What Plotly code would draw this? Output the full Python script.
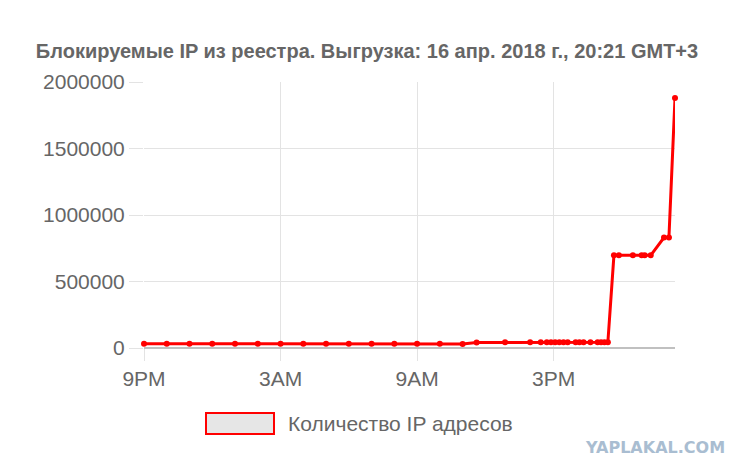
import plotly.graph_objects as go

# Data (time of export, blocked IP count)
times = [
    "2018-04-15 21:00", "2018-04-15 22:00", "2018-04-15 23:00", "2018-04-16 00:00",
    "2018-04-16 01:00", "2018-04-16 02:00", "2018-04-16 03:00", "2018-04-16 04:00",
    "2018-04-16 05:00", "2018-04-16 06:00", "2018-04-16 07:00", "2018-04-16 08:00",
    "2018-04-16 09:00", "2018-04-16 10:00", "2018-04-16 11:00", "2018-04-16 11:37",
    "2018-04-16 12:52", "2018-04-16 13:58", "2018-04-16 14:26", "2018-04-16 14:42",
    "2018-04-16 14:53", "2018-04-16 15:04", "2018-04-16 15:15", "2018-04-16 15:26",
    "2018-04-16 15:37", "2018-04-16 15:58", "2018-04-16 16:08", "2018-04-16 16:19",
    "2018-04-16 16:37", "2018-04-16 16:56", "2018-04-16 17:05", "2018-04-16 17:14",
    "2018-04-16 17:23", "2018-04-16 17:39", "2018-04-16 17:52", "2018-04-16 18:29",
    "2018-04-16 18:52", "2018-04-16 19:00", "2018-04-16 19:16", "2018-04-16 19:51",
    "2018-04-16 20:04", "2018-04-16 20:20",
]
ip_counts = [
    32000, 32000, 32000, 32000, 32000, 32000, 32000, 32000,
    32000, 32000, 32000, 32000, 32000, 32000, 30000, 42000,
    43000, 43000, 43000, 43000, 43000, 43000, 43000, 43000,
    43000, 43000, 43000, 43000, 43000, 43000, 43000, 43000,
    43000, 697000, 697000, 697000, 697000, 697000, 697000, 830000,
    830000, 1880000,
]

tick_vals = ["2018-04-15 21:00", "2018-04-16 03:00", "2018-04-16 09:00", "2018-04-16 15:00"]
tick_text = ["9PM", "3AM", "9AM", "3PM"]

title_text = "Блокируемые IP из реестра. Выгрузка: 16 апр. 2018 г., 20:21 GMT+3"
legend_text = "Количество IP адресов"

GRAY = "#666666"
FONT = "Liberation Sans, Arial, sans-serif"

# page body has an 8px offset; plot area target: x 144..675, y 82..348
OFF = 8
PL, PR, PT, PB = 144, 675, 82, 348
W, H = 749 - OFF, 476 - OFF

def px(x):
    return (x - PL) / (PR - PL)

def py(y):
    return (PB - y) / (PB - PT)

fig = go.Figure()
fig.add_trace(go.Scatter(
    x=times, y=ip_counts, mode="lines+markers",
    line=dict(color="#ff0000", width=3),
    marker=dict(color="#ff0000", size=6),
    cliponaxis=False, showlegend=False,
))

fig.update_layout(
    width=W, height=H,
    margin=dict(l=PL - OFF, r=W + OFF - PR, t=PT - OFF, b=H + OFF - PB, pad=0),
    paper_bgcolor="white", plot_bgcolor="white",
    font=dict(family=FONT, color=GRAY, size=20),
    title=dict(text="<b>" + title_text + "</b>", x=(367 - OFF) / W, xanchor="center",
               y=1 - (51 - OFF) / H, yanchor="middle",
               font=dict(family=FONT, size=20, color=GRAY)),
    xaxis=dict(
        type="date", range=[times[0], times[-1]],
        tickvals=tick_vals, ticktext=tick_text,
        showgrid=True, gridcolor="#e3e3e3", gridwidth=1,
        ticks="outside", ticklen=12, tickcolor="#e3e3e3",
        showline=False, zeroline=False,
        tickfont=dict(size=21, color=GRAY),
    ),
    yaxis=dict(
        range=[0, 2000000], tickvals=[0, 500000, 1000000, 1500000, 2000000],
        ticktext=["0", "500000", "1000000", "1500000", "2000000"],
        showgrid=True, gridcolor="#e3e3e3", gridwidth=1,
        ticks="outside", ticklen=14, tickcolor="#e3e3e3",
        zeroline=True, zerolinecolor="#c0c0c0", zerolinewidth=2,
        showline=False,
        tickfont=dict(size=21, color=GRAY),
    ),
    shapes=[
        dict(type="rect", xref="paper", yref="paper",
             x0=px(206), x1=px(274), y0=py(434), y1=py(413),
             line=dict(color="#ff0000", width=2), fillcolor="#e6e6e6"),
    ],
    annotations=[
        dict(text=legend_text, xref="paper", yref="paper",
             x=px(286), y=py(424),
             xanchor="left", yanchor="middle", showarrow=False,
             font=dict(family=FONT, size=21, color=GRAY)),
        dict(text="<b>YAPLAKAL.COM</b>", xref="paper", yref="paper",
             x=px(655), y=py(447),
             xanchor="center", yanchor="middle", showarrow=False,
             font=dict(family="DejaVu Sans, sans-serif", size=16, color="#a9bdd1")),
    ],
)

fig.write_html("out.html")
